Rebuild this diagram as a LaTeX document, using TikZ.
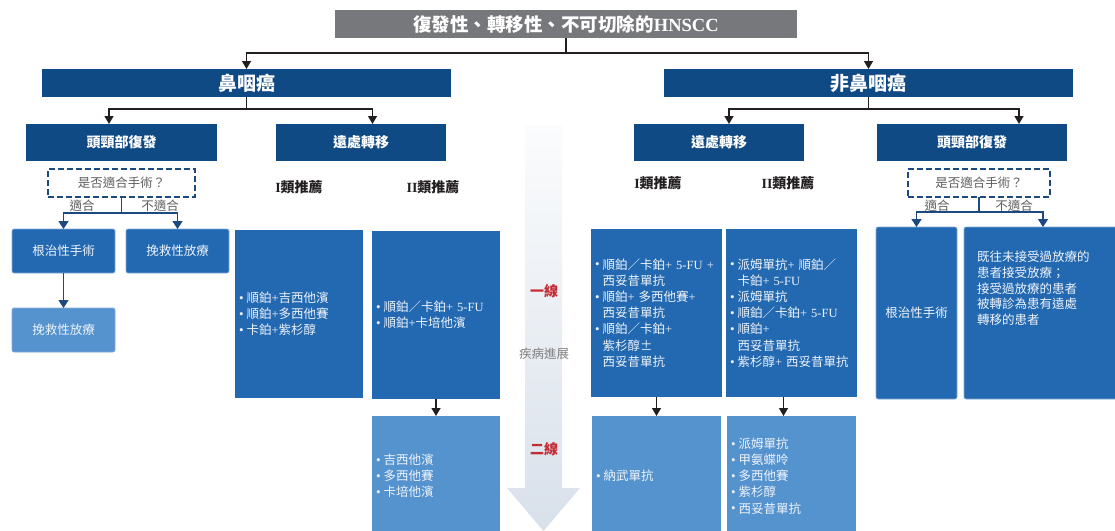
\documentclass[tikz,border=0pt]{standalone}
\usepackage{fontspec}
\setmainfont{Noto Sans CJK TC}
\newfontfamily\lat{Liberation Serif}
\usetikzlibrary{arrows.meta,calc}
\definecolor{titlegray}{HTML}{77787B}
\definecolor{hdrblue}{HTML}{104A84}
\definecolor{midblue}{HTML}{2269B2}
\definecolor{lightblue}{HTML}{5593CF}
\definecolor{dashblue}{HTML}{1C4A80}
\definecolor{boxtext}{HTML}{EEF3FA}
\definecolor{redtxt}{HTML}{C42B33}
\definecolor{graytxt}{HTML}{5E5E5E}
\definecolor{arrtop}{HTML}{FBFCFD}
\definecolor{arrbot}{HTML}{D8E0EA}
\definecolor{rborder}{HTML}{86ABD9}
\definecolor{linecol}{HTML}{231F20}
\newcommand\bodyfont{\fontsize{12.5}{16.2}\selectfont}
\newcommand\bl{\makebox[7.5pt][l]{\raisebox{0.3pt}{\lat\fontsize{13}{13}\selectfont\textbullet}}}
\newcommand\ind{\hspace*{7.5pt}}
\begin{document}
\begin{tikzpicture}[x=1pt,y=-1pt,
  every node/.style={inner sep=0pt,outer sep=0pt},
  ttl/.style={fill=titlegray,text=white,anchor=north west,font=\fontsize{18.5}{18.5}\selectfont\bfseries},
  hdr/.style={fill=hdrblue,text=white,anchor=north west},
  bighdr/.style={hdr,font=\fontsize{19}{19}\selectfont\bfseries},
  smhdr/.style={hdr,font=\fontsize{14}{14}\selectfont\bfseries},
  cls/.style={text=linecol,font=\fontsize{14}{14}\selectfont\bfseries},
  qbox/.style={draw=dashblue,line width=2.2pt,dash pattern=on 6pt off 3pt,anchor=north west,text=graytxt,font=\bodyfont},
  qlbl/.style={text=graytxt,font=\bodyfont},
  mbox/.style={fill=midblue,text=boxtext,anchor=north west,font=\bodyfont},
  lbox/.style={fill=lightblue,text=boxtext,anchor=north west,font=\bodyfont},
  rbox/.style={rounded corners=2pt,draw=rborder,line width=0.6pt},
  lst/.style={align=left,inner xsep=4pt},
  blk/.style={draw=linecol,line width=1.4pt},
  blkarr/.style={blk,-{Triangle[width=9pt,length=8pt]}},
  qln/.style={draw=dashblue,line width=1.6pt},
  qarr/.style={qln,-{Triangle[width=10pt,length=8pt]}},
  lineno/.style={text=redtxt,font=\fontsize{14}{14}\selectfont\bfseries},
  prog/.style={text=graytxt!80,font=\bodyfont}
]
\useasboundingbox (0,0) rectangle (1115,530);

% progression arrow
\shade[top color=arrtop,bottom color=arrbot] (525,125) -- (562,125) -- (562,488) -- (580,488) -- (543.5,531) -- (507,488) -- (525,488) -- cycle;
\node[lineno] (l1) at (544,291) {一線};
\node[prog] (pg) at (544,354) {疾病進展};
\node[lineno] (l2) at (544,449) {二線};

% title and headers
\node[ttl,minimum width=462,minimum height=28] (title) at (335,10) {復發性、轉移性、不可切除的{\lat\bfseries HNSCC}};
\node[bighdr,minimum width=409,minimum height=28] (npc) at (42,69) {鼻咽癌};
\node[bighdr,minimum width=409,minimum height=28] (nnpc) at (664,69) {非鼻咽癌};
\node[smhdr,minimum width=191,minimum height=37] (hnL) at (26,124) {頭頸部復發};
\node[smhdr,minimum width=170,minimum height=37] (dmL) at (276,124) {遠處轉移};
\node[smhdr,minimum width=170,minimum height=37] (dmR) at (634,124) {遠處轉移};
\node[smhdr,minimum width=190,minimum height=37] (hnR) at (877,124) {頭頸部復發};

% class labels
\node[cls] (c1L) at (299,187) {{\lat\bfseries I}類推薦};
\node[cls] (c2L) at (433,187) {{\lat\bfseries II}類推薦};
\node[cls] (c1R) at (658,183) {{\lat\bfseries I}類推薦};
\node[cls] (c2R) at (788,183) {{\lat\bfseries II}類推薦};

% question boxes
\node[qbox,minimum width=147,minimum height=28] (qL) at (48,169) {是否適合手術？};
\node[qbox,minimum width=142,minimum height=28] (qR) at (908,169) {是否適合手術？};

% left NPC local
\node[mbox,rbox,minimum width=103,minimum height=44] (cureL) at (12,229) {根治性手術};
\node[mbox,rbox,minimum width=103,minimum height=44] (salvL) at (126,229) {挽救性放療};
\node[lbox,rbox,minimum width=103,minimum height=44] (salvL2) at (12,308) {挽救性放療};

% left NPC distant
\node[mbox,lst,text width=120,minimum height=168] (i1L) at (235,230) {\bl 順鉑{\lat+}吉西他濱\\\bl 順鉑{\lat+}多西他賽\\\bl 卡鉑{\lat+}紫杉醇};
\node[mbox,lst,text width=120,minimum height=168] (i2L) at (372,231) {\bl 順鉑／卡鉑{\lat+ 5-FU}\\\bl 順鉑{\lat+}卡培他濱};
\node[lbox,lst,text width=120,minimum height=120] (s2L) at (372,416) {\bl 吉西他濱\\\bl 多西他賽\\\bl 卡培他濱};

% right non-NPC distant
\node[mbox,lst,text width=123,minimum height=168] (i1R) at (591,229) {\bl 順鉑／卡鉑{\lat+ 5-FU +}\\\ind 西妥昔單抗\\\bl 順鉑{\lat+ }多西他賽{\lat+}\\\ind 西妥昔單抗\\\bl 順鉑／卡鉑{\lat+}\\\ind 紫杉醇±\\\ind 西妥昔單抗};
\node[mbox,lst,text width=123,minimum height=168] (i2R) at (726,229) {\bl 派姆單抗{\lat+ }順鉑／\\\ind 卡鉑{\lat+ 5-FU}\\\bl 派姆單抗\\\bl 順鉑／卡鉑{\lat+ 5-FU}\\\bl 順鉑{\lat+}\\\ind 西妥昔單抗\\\bl 紫杉醇{\lat+ }西妥昔單抗};
\node[lbox,lst,text width=121,minimum height=120] (s1R) at (592,416) {\bl 納武單抗};
\node[lbox,lst,text width=121,minimum height=120] (s2R) at (727,416) {\bl 派姆單抗\\\bl 甲氨蝶呤\\\bl 多西他賽\\\bl 紫杉醇\\\bl 西妥昔單抗};

% right non-NPC local
\node[mbox,rbox,minimum width=81,minimum height=172] (cureR) at (876,227) {根治性手術};
\node[mbox,rbox,minimum width=158,minimum height=172] (prevR) at (964,227) {};
\node[anchor=north west,align=left,text=boxtext,font=\fontsize{12.5}{15.8}\selectfont] (prevRt) at (977,251) {既往未接受過放療的\\患者接受放療；\\接受過放療的患者\\被轉診為患有遠處\\轉移的患者};

% main connectors
\draw[blk] (title.south) -- ++(0,15) coordinate (tj);
\draw[blkarr] (tj) -| (npc.north);
\draw[blkarr] (tj) -| (nnpc.north);
\draw[blk] (npc.south) -- ++(0,12) coordinate (nj);
\draw[blkarr] (nj) -| ([xshift=-12.5pt]hnL.north);
\draw[blkarr] (nj) -| ([xshift=11.5pt]dmL.north);
\draw[blk] (nnpc.south) -- ++(0,12) coordinate (rj);
\draw[blkarr] (rj) -| ([xshift=10pt]dmR.north);
\draw[blkarr] (rj) -| ([xshift=47pt]hnR.north);
\draw[blkarr] (i2L.south) -- (s2L.north);
\draw[blkarr] (i1R.south) -- (s1R.north);
\draw[blkarr] ([xshift=-8pt]i2R.south) -- ([xshift=-8pt]s2R.north);

% question connectors
\draw[qln] (qL.south) -- ++(0,16) coordinate (qLj);
\draw[qarr] (qLj) -| (cureL.north);
\draw[qarr] (qLj) -| (salvL.north);
\draw[qarr] (cureL.south) -- (salvL2.north);
\node[qlbl] (yL) at (82,206) {適合};
\node[qlbl] (nL) at (160,206) {不適合};
\draw[qln] (qR.south) -- ++(0,15) coordinate (qRj);
\draw[qarr] (qRj) -| (cureR.north);
\draw[qarr] (qRj) -| ([xshift=0pt]prevR.north);
\node[qlbl] (yR) at (937,206) {適合};
\node[qlbl] (nR) at (1014,206) {不適合};
\end{tikzpicture}
\end{document}
